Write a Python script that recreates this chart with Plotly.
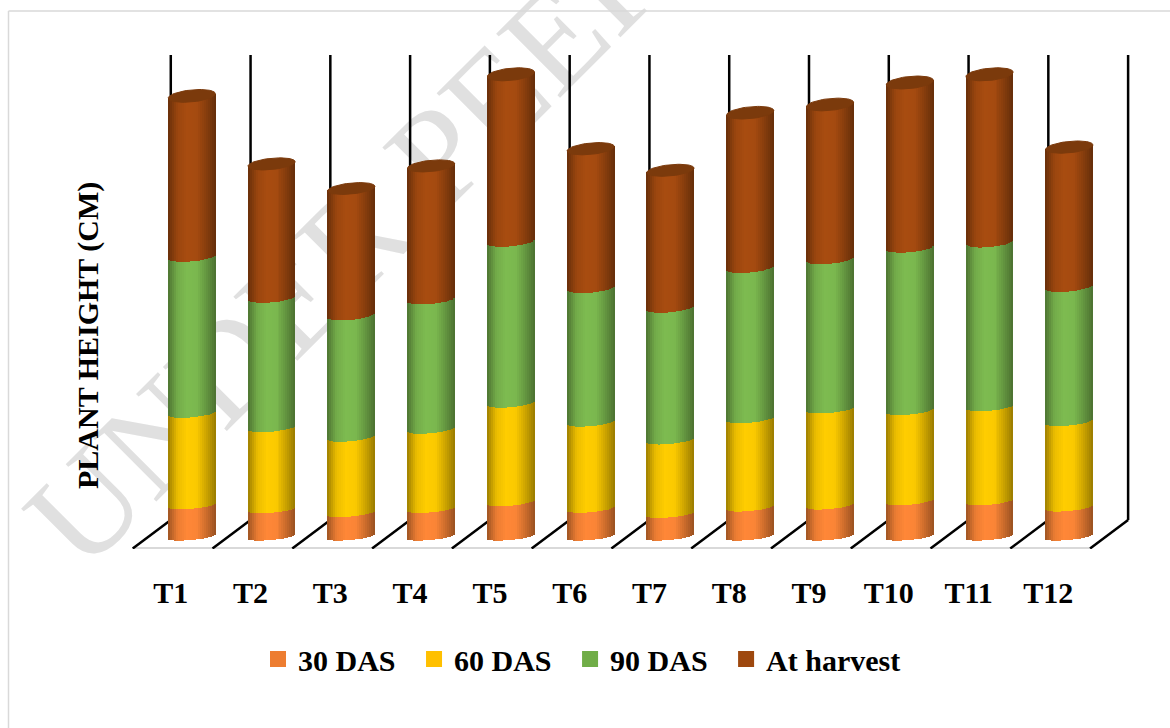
import math
import plotly.graph_objects as go

# ---- data (plant height segment values) ----
categories = ["T1","T2","T3","T4","T5","T6","T7","T8","T9","T10","T11","T12"]
das30   = [15.7,13.7,11.8,13.9,17.3,14.0,11.4,14.6,15.6,17.8,17.8,14.6]
das60   = [46.0,40.8,37.9,39.8,49.5,43.3,36.9,44.4,48.3,45.3,47.2,43.0]
das90   = [78.4,65.0,61.0,65.0,80.9,67.1,66.2,75.5,75.0,81.6,82.3,67.4]
harvest = [81.2,67.8,64.3,67.6,84.4,70.5,69.6,78.4,78.1,83.3,84.8,70.7]
series_names = ["30 DAS","60 DAS","90 DAS","At harvest"]
series_values = [das30, das60, das90, harvest]
series_colors = ["#ED7D31","#FFC000","#70AD47","#9E480E"]
center_colors = [(255,135,55),(255,205,0),(125,187,80),(168,76,16)]

W, H = 1170, 728
L, R, T, B = 91, 2, 55, 179
XR = [-1.0, 12.5]
YR = [-6.25, 240.75]
SERIF = "Liberation Serif"
FS = 30
N = 24
BAR_OFF, BAR_HALF = 0.263, 0.30
PAD = "\u00a0\u2009"   # keeps the legend pitch of the reference

def paper_x(px): return (px - L) / (W - L - R)
def paper_y(py): return (H - B - py) / (H - T - B)

stops = [(-1,0.62),(-0.6,0.92),(-0.2,1.0),(0.2,0.98),(0.6,0.80),(1,0.60)]
def shade(c, t):
    for (t0,f0),(t1,f1) in zip(stops, stops[1:]):
        if t <= t1:
            f = f0 + (f1-f0)*(t-t0)/(t1-t0)
            break
    return "rgb(%d,%d,%d)" % tuple(min(255,round(v*f)) for v in c)

def bulge(level):
    return (3.5 + 2.5*level/221)/2

def arc(level, t):
    return 1.1*t - bulge(level)*math.sqrt(max(0,1-t*t))

fig = go.Figure()

# legend-carrying centre strips (hidden behind the shaded strips)
cum = [0]*len(categories)
for name, vals, col in zip(series_names, series_values, series_colors):
    fig.add_trace(go.Bar(x=[i+BAR_OFF for i in range(len(categories))], y=vals, base=cum,
                         width=0.05, name=name+PAD, marker=dict(color=col, line=dict(color=col, width=4)),
                         hoverinfo="skip", showlegend=True))
    cum = [c+v for c,v in zip(cum, vals)]

# shaded strips forming each cylinder
w = 2*BAR_HALF/N
cum = [0]*len(categories)
for name, vals, cc in zip(series_names, series_values, center_colors):
    for s in range(N):
        t = -1 + (2*s+1)/N
        lo = [c + arc(c,t) for c in cum]
        hi = [c+v + arc(c+v,t) for c,v in zip(cum, vals)]
        fig.add_trace(go.Bar(x=[i+BAR_OFF+t*BAR_HALF for i in range(len(categories))],
                             y=[h-l for h,l in zip(hi,lo)], base=lo, width=w*1.02,
                             name=name, marker=dict(color=shade(cc,t), line=dict(width=0)),
                             hoverinfo="skip", showlegend=False))
    cum = [c+v for c,v in zip(cum, vals)]

# top caps
cx, cy = [], []
for i, total in enumerate(cum):
    for k in range(61):
        th = 2*math.pi*k/60
        t = math.cos(th)
        cx.append(i+BAR_OFF+t*BAR_HALF*0.985)
        cy.append(total - 1 + 1.1*t + bulge(total)*math.sin(th))
    cx.append(None); cy.append(None)
fig.add_trace(go.Scatter(x=cx, y=cy, mode="lines", fill="toself", fillcolor="#7B3A0C",
                         line=dict(color="#7B3A0C", width=1), hoverinfo="skip", showlegend=False))

shapes = []
# watermark, below the traces
shapes.append(dict(type="line", xref="paper", yref="paper",
                   x0=paper_x(260), x1=paper_x(930), y0=paper_y(422), y1=paper_y(-248),
                   line=dict(width=0), layer="below",
                   label=dict(text="UNDER PEER REVIEW", textangle=-45, textposition="middle",
                              font=dict(family=SERIF, size=138, color="#e0e0e0"))))
# chart frame
shapes.append(dict(type="line", xref="paper", yref="paper", x0=paper_x(8.5), x1=paper_x(1175),
                   y0=paper_y(11), y1=paper_y(11), line=dict(color="#d9d9d9", width=1.5), layer="below"))
shapes.append(dict(type="line", xref="paper", yref="paper", x0=paper_x(8.5), x1=paper_x(8.5),
                   y0=paper_y(11), y1=paper_y(735), line=dict(color="#d9d9d9", width=1.5), layer="below"))
# floor
shapes.append(dict(type="line", x0=-0.477, x1=11.523, y0=-6, y1=-6, line=dict(color="#d9d9d9", width=3), layer="below"))
# walls and floor diagonals
for i in range(13):
    shapes.append(dict(type="line", x0=i, x1=i, y0=8.25, y1=240.75, line=dict(color="black", width=2.5), layer="below"))
    shapes.append(dict(type="line", x0=i-0.477, x1=i, y0=-6, y1=8.25, line=dict(color="black", width=2.5), layer="below"))

fig.update_layout(
    width=W, height=H, margin=dict(l=L, r=R, t=T, b=B),
    paper_bgcolor="white", plot_bgcolor="rgba(0,0,0,0)",
    barmode="overlay", bargap=0,
    shapes=shapes,
    font=dict(family=SERIF, color="black"),
    xaxis=dict(range=XR, tickmode="array", tickvals=list(range(len(categories))), ticktext=categories,
               showgrid=False, zeroline=False, showline=False, ticks="outside", ticklen=17,
               tickcolor="rgba(0,0,0,0)", tickfont=dict(family=SERIF, size=FS, color="black", weight="bold")),
    yaxis=dict(range=YR, showgrid=False, zeroline=False, showline=False, showticklabels=False, ticks=""),
    legend=dict(orientation="h", x=paper_x(258), xanchor="left", y=paper_y(633), yanchor="top",
                font=dict(family=SERIF, size=FS, color="black", weight="bold"),
                traceorder="normal", bgcolor="rgba(0,0,0,0)"),
    annotations=[dict(text="<b>PLANT HEIGHT (CM)</b>", xref="paper", yref="paper",
                      x=paper_x(88), y=paper_y(336), textangle=-90, showarrow=False,
                      xanchor="center", yanchor="middle",
                      font=dict(family=SERIF, size=FS, color="black"))],
)
fig.write_html("out.html", post_script="document.body.style.margin='0';",
               config={"displayModeBar": False})
